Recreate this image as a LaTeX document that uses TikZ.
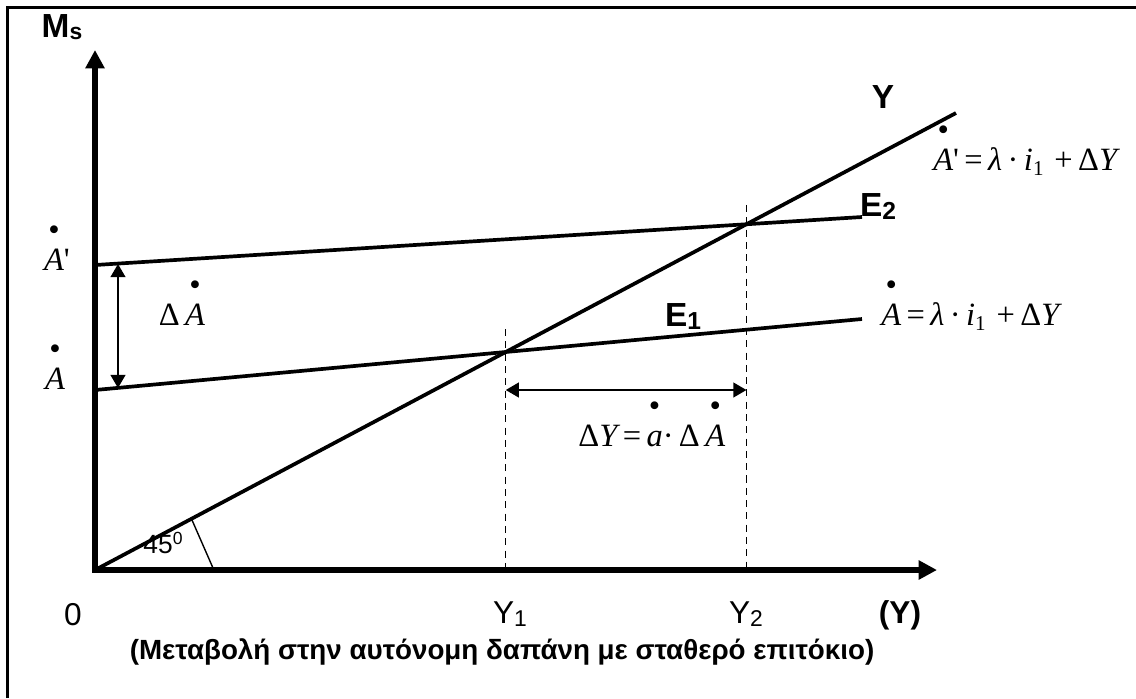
\documentclass[tikz,border=0pt]{standalone}
\usepackage{fontspec}
\setmainfont{Liberation Sans}
\newfontfamily\tnr{Liberation Serif}
\usetikzlibrary{arrows.meta}
% dot over a letter (time derivative)
\newcommand\pdot[1]{\ooalign{#1\cr\hidewidth\raisebox{0.9em}{\upshape\textbullet}\hidewidth\cr}}
\newcommand\eqfont{\tnr\fontsize{18.5}{21}\selectfont}
\newcommand\lblfont{\fontsize{18}{20}\selectfont}
\tikzset{
  axis/.style={line width=3.2pt, -{Triangle[length=10.5pt,width=10.5pt]}},
  curve/.style={line width=2.1pt},
  guide/.style={line width=0.7pt, dash pattern=on 4pt off 3pt},
  span/.style={line width=0.9pt, {Triangle[length=7.5pt,width=8.5pt]}-{Triangle[length=7.5pt,width=8.5pt]}},
  eqlabel/.style={inner sep=0pt, anchor=base, font=\eqfont},
  axlabel/.style={inner sep=0pt, anchor=base, font=\lblfont},
}
\begin{document}
\begin{tikzpicture}[x=0.02cm, y=-0.02cm]
  \useasboundingbox (0,0) rectangle (1136,698);

  % frame (top and left only)
  \draw[line width=1.5pt] (7.5,698) -- (7.5,7.5) -- (1136,7.5);

  \coordinate (O) at (95,570);
  \coordinate (ytip) at (95,50);
  \coordinate (xtip) at (937,570);
  \coordinate (Yend) at (956,113);
  \coordinate (E1a) at (95,390);
  \coordinate (E1b) at (862,319);
  \coordinate (E2a) at (95,265);
  \coordinate (E2b) at (862,217);
  \coordinate (P1) at (intersection of O--Yend and E1a--E1b);
  \coordinate (P2) at (intersection of O--Yend and E2a--E2b);
  \coordinate (s1) at (118,264);
  \coordinate (s2) at (118,388);
  \coordinate (m1) at (192,520);
  \coordinate (m2) at (213,568);

  \draw[guide] ([yshift=13pt]P1) -- (P1 |- O);
  \draw[guide] ([yshift=11pt]P2) -- (P2 |- O);

  \draw[curve] (E1a) -- (E1b);
  \draw[curve] (E2a) -- (E2b);
  \draw[curve] (O) -- (Yend);
  \draw[line width=0.8pt] (m1) -- (m2);

  \draw[axis, line cap=rect] (O) -- (ytip);
  \draw[axis, line cap=rect] (O) -- (xtip);

  \draw[span] (s1) -- (s2);
  \draw[span] (P1 |- E1a) -- (P2 |- E1a);

  % labels
  \node (ms) [axlabel, font=\fontsize{19}{21}\selectfont\bfseries] at (62,37) {M\raisebox{-1.5pt}{\fontsize{13}{13}\selectfont s}};
  \node (ylbl) [axlabel, font=\fontsize{19}{21}\selectfont\bfseries] at (883,108) {Y};
  \node (e2) [axlabel, font=\fontsize{19}{21}\selectfont\bfseries] at (878,216) {E\raisebox{-2pt}{\fontsize{14}{14}\selectfont 2}};
  \node (e1) [axlabel, font=\fontsize{19}{21}\selectfont\bfseries] at (683,326) {E\raisebox{-2pt}{\fontsize{14}{14}\selectfont 1}};
  \node (zero) [axlabel] at (73,625) {0};
  \node (y1) [axlabel] at (510,623) {Y\raisebox{-2pt}{\fontsize{13}{13}\selectfont 1}};
  \node (y2) [axlabel] at (746,623) {Y\raisebox{-2pt}{\fontsize{13}{13}\selectfont 2}};
  \node (yax) [axlabel, font=\lblfont\bfseries] at (900,623) {(Y)};
  \node (cap) [axlabel, font=\fontsize{15.8}{18}\selectfont\bfseries] at (502,659) {(Μεταβολή στην αυτόνομη δαπάνη με σταθερό επιτόκιο)};
  \node (ang) [axlabel, font=\fontsize{15}{17}\selectfont] at (163,553) {45\raisebox{5pt}{\fontsize{10}{10}\selectfont 0}};

  \node (a2) [eqlabel] at (57,270) {{\itshape\pdot{A}}\textquotesingle};
  \node (a1) [eqlabel] at (55,389) {\itshape\pdot{A}};
  \node (da) [eqlabel] at (182,325) {Δ\,{\itshape\pdot{A}}};
  \node (eqa2) [eqlabel, anchor=base west] at (933,170) {{\itshape\pdot{A}}\textquotesingle\,=\,{\itshape λ}\,·\,{\itshape i}\raisebox{-3pt}{\fontsize{12}{12}\selectfont 1}\,\,+\,Δ{\itshape Y}};
  \node (eqa1) [eqlabel, anchor=base west] at (881,325) {{\itshape\pdot{A}}\,=\,{\itshape λ}\,·\,{\itshape i}\raisebox{-3pt}{\fontsize{12}{12}\selectfont 1}\,\,+\,Δ{\itshape Y}};
  \node (dy) [eqlabel, anchor=base west] at (578,446) {Δ{\itshape Y}\,=\,{\itshape\pdot{a}}·\,Δ\,{\itshape\pdot{A}}};
\end{tikzpicture}
\end{document}
